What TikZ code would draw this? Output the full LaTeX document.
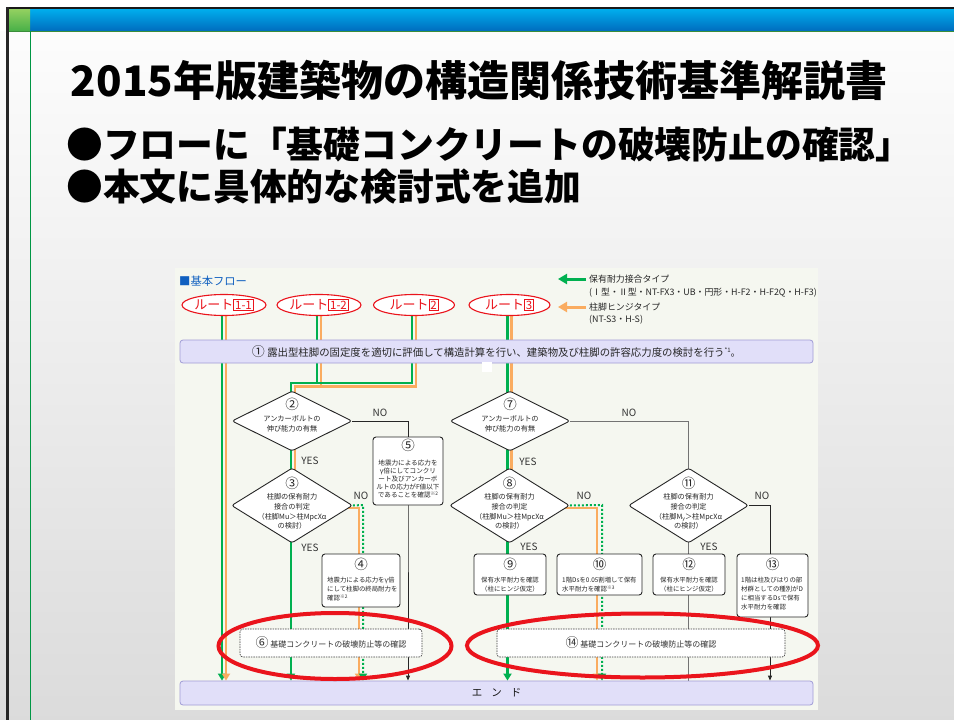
\documentclass[tikz,border=0pt]{standalone}
\usepackage{fontspec}
\newfontfamily\cjk{Noto Sans CJK JP}
\usetikzlibrary{shapes.geometric,arrows.meta,calc}
\pgfdeclarelayer{back}
\pgfdeclarelayer{lines}
\pgfsetlayers{back,lines,main}
\newcommand\fsz[2]{\fontsize{#1}{#2}\selectfont}
\newcommand\rbox[1]{{\setlength\fboxsep{0.9pt}\setlength\fboxrule{0.9pt}\fcolorbox{rd}{white}{\fsz{11.5}{11.5}\textcolor{rd}{#1}}}}
\newcommand\kome[1]{{\fsz{4.8}{4.8}\raisebox{1.8pt}{#1}}}
\definecolor{gr}{RGB}{0,176,80}
\definecolor{orn}{RGB}{250,172,96}
\definecolor{lav}{RGB}{225,223,249}
\definecolor{lavb}{RGB}{160,156,214}
\definecolor{panel}{RGB}{245,247,240}
\definecolor{rd}{RGB}{234,20,28}
\definecolor{blu1}{RGB}{0,172,236}
\definecolor{blu2}{RGB}{0,108,190}
\definecolor{grn1}{RGB}{146,208,96}
\definecolor{grn2}{RGB}{72,176,72}
\definecolor{hdblue}{RGB}{16,96,192}
\begin{document}
\begin{tikzpicture}[x=1pt,y=-1pt,
  every node/.style={font=\cjk, inner sep=0pt},
  route/.style={ellipse, draw=rd, line width=1.1pt, fill=white, minimum width=81pt, minimum height=21pt, text=rd, font=\cjk\fsz{13}{13}},
  lavbox/.style={rectangle, rounded corners=3pt, draw=lavb, line width=0.8pt, fill=lav},
  dia/.style={diamond, draw=black!85, line width=0.9pt, fill=white, rounded corners=2.5pt},
  bx/.style={rectangle, rounded corners=3pt, draw=black!85, line width=0.9pt, fill=white},
  dbx/.style={rectangle, rounded corners=3pt, draw=black!75, line width=0.7pt, dash pattern=on 1.5pt off 1pt, fill=white, text=black!80, font=\cjk\fsz{8}{8}},
  num/.style={font=\cjk\fsz{13.5}{13.5}, text=black!85},
  dt/.style={align=center, font=\cjk\fsz{7.2}{9.8}, text=black!85},
  bt/.style={font=\cjk\fsz{6.6}{8}, text=black!85},
  lbl/.style={font=\cjk\fsz{10}{10}, text=black!80},
  lgt/.style={font=\cjk\fsz{8.9}{8.9}, text=black!85, anchor=west},
  gl/.style={draw=gr, line width=2.4pt},
  ol/.style={draw=orn, line width=2.4pt},
  gdl/.style={draw=gr, line width=2pt, dash pattern=on 2pt off 2pt},
  kl/.style={draw=black!85, line width=0.9pt},
  ql/.style={draw=black!55, line width=0.9pt},
  bigtip/.style={-{Triangle[width=8pt,length=7pt]}},
  smalltip/.style={-{Triangle[width=4pt,length=5pt]}},
  redring/.style={ellipse, draw=rd, line width=4pt}
]
\useasboundingbox (0,0) rectangle (954,720);

% ---------- slide background ----------
\begin{pgfonlayer}{back}
\fill[white] (0,0) rectangle (954,720);
\shade[top color=black!1, bottom color=black!14] (0,31) rectangle (954,720);
\fill[black!90] (5.5,7) rectangle (954,9.5);
\shade[top color=blu1, bottom color=blu2] (8.5,9.5) rectangle (954,31);
\shade[top color=grn1, bottom color=grn2] (8.5,9.5) rectangle (30,31);
\draw[grn2!80!black, line width=1pt] (8.5,31.5) -- (954,31.5);
\fill[black!85] (5.5,7) rectangle (8.5,720);
\draw[gr!85!black, line width=0.9pt] (30,31) -- (30,720);
% panel
\fill[panel] (175,268) rectangle (818,710);
\end{pgfonlayer}

% ---------- titles ----------
\node[font=\cjk\bfseries\fsz{42}{42}] (title) at (479,80) {2015年版建築物の構造関係技術基準解説書};
\node[font=\cjk\bfseries\fsz{36.8}{36.8}, anchor=west] (bul1) at (66,145) {●フローに「基礎コンクリートの破壊防止の確認」};
\node[font=\cjk\bfseries\fsz{36.8}{36.8}, anchor=west] (bul2) at (66,187) {●本文に具体的な検討式を追加};

% ---------- diagram header & legend ----------
\node[font=\cjk\fsz{11.3}{11.3}, text=hdblue, anchor=west] (hd) at (179,281) {■基本フロー};

\node[route] (r11) at (224,305) {ルート\rbox{1-1}};
\node[route] (r12) at (319,305) {ルート\rbox{1-2}};
\node[route] (r2) at (414,305) {ルート\rbox{2}};
\node[route] (r3) at (509.5,305) {ルート\rbox{3}};

\node[lgt] (lg1) at (589,279) {保有耐力接合タイプ};
\node[lgt] (lg2) at (589,293) {(Ⅰ型・Ⅱ型・NT-FX3・UB・円形・H-F2・H-F2Q・H-F3)};
\node[lgt] (lg3) at (589,307) {柱脚ヒンジタイプ};
\node[lgt] (lg4) at (589,320) {(NT-S3・H-S)};
\coordinate (la1) at (558,279);
\coordinate (la2) at (558,307);
\draw[draw=gr, line width=3pt, -{Triangle[width=10pt,length=9pt]}] ([xshift=-3pt]lg1.west) -- (la1);
\draw[draw=orn, line width=3pt, -{Triangle[width=10pt,length=9pt]}] ([xshift=-3pt]lg3.west) -- (la2);

% ---------- main boxes ----------
\node[lavbox, minimum width=633pt, minimum height=23pt, font=\cjk\fsz{10.4}{10.4}, text=black!85] (b1) at (496.5,351.5)
  {{\fsz{13}{13}①}\ 露出型柱脚の固定度を適切に評価して構造計算を行い、建築物及び柱脚の許容応力度の検討を行う{\fsz{6}{6}\raisebox{3.5pt}{*1}}。};
\fill[white] (482,362) rectangle (492,372);

\node[lavbox, minimum width=633pt, minimum height=24pt, font=\cjk\fsz{10.5}{10.5}, text=black!90] (endb) at (496.5,693)
  {エ\hspace{9pt}ン\hspace{9pt}ド};

% diamonds
\node[dia, minimum width=120pt, minimum height=60pt] (d2) at (292,421) {};
\node[dia, minimum width=121pt, minimum height=75pt] (d3) at (292,505.5) {};
\node[dia, minimum width=120pt, minimum height=60pt] (d7) at (510,421) {};
\node[dia, minimum width=120pt, minimum height=75pt] (d8) at (509.5,505.5) {};
\node[dia, minimum width=120pt, minimum height=75pt] (d11) at (688.5,505.5) {};

\node[num] (n2) at (292,404) {②};
\node[dt] (t2) at (292,424) {アンカーボルトの\\伸び能力の有無};
\node[num] (n7) at (510,404) {⑦};
\node[dt] (t7) at (510,424) {アンカーボルトの\\伸び能力の有無};
\node[num] (n3) at (292,483) {③};
\node[dt] (t3) at (292,511.5) {柱脚の保有耐力\\接合の判定\\（柱脚Mu＞柱MpcXα\\の検討）};
\node[num] (n8) at (509.5,483) {⑧};
\node[dt] (t8) at (509.5,511.5) {柱脚の保有耐力\\接合の判定\\（柱脚Mu＞柱MpcXα\\の検討）};
\node[num] (n11) at (688.5,483) {⑪};
\node[dt] (t11) at (688.5,511.5) {柱脚の保有耐力\\接合の判定\\（柱脚M{\fsz{5}{5}\raisebox{-1.2pt}{y}}＞柱MpcXα\\の検討）};

% rectangular boxes
\node[bx, minimum width=70pt, minimum height=68pt] (b5) at (408,471) {};
\node[num] (n5) at (408,445) {⑤};
\node[bt, align=center] (t5) at (408,479) {地震力による応力を\\γ倍にしてコンクリ\\ート及びアンカーボ\\ルトの応力がF値以下\\であることを確認\kome{※2}};

\node[bx, minimum width=78pt, minimum height=53pt] (b4) at (361,580.5) {};
\node[num] (n4) at (361,564) {④};
\node[bt, align=left, anchor=west, font=\cjk\fsz{6.4}{9}] (t4) at (327,589) {地震力による応力をγ倍\\にして柱脚の終局耐力を\\確認\kome{※2}};

\node[bx, minimum width=72pt, minimum height=41pt] (b9) at (510,574.5) {};
\node[num] (n9) at (510,564) {⑨};
\node[bt, align=center, font=\cjk\fsz{6.4}{9}] (t9) at (510,584.5) {保有水平耐力を確認\\（柱にヒンジ仮定）};

\node[bx, minimum width=85pt, minimum height=41pt] (b10) at (599.5,574.5) {};
\node[num] (n10) at (599.5,564) {⑩};
\node[bt, align=left, anchor=west, font=\cjk\fsz{6.4}{9}] (t10) at (562,584.5) {1階Dsを0.05割増して保有\\水平耐力を確認\kome{※3}};

\node[bx, minimum width=72pt, minimum height=41pt] (b12) at (689,574.5) {};
\node[num] (n12) at (689,564) {⑫};
\node[bt, align=center, font=\cjk\fsz{6.4}{9}] (t12) at (689,584.5) {保有水平耐力を確認\\（柱にヒンジ仮定）};

\node[bx, minimum width=71pt, minimum height=63pt] (b13) at (772.5,585.5) {};
\node[num] (n13) at (772.5,564) {⑬};
\node[bt, align=left, anchor=west, font=\cjk\fsz{6.4}{9}] (t13) at (741,593.5) {1階は柱及びはりの部\\材群としての種別がD\\に相当するDsで保有\\水平耐力を確認};

\node[dbx, minimum width=182pt, minimum height=28pt] (b6) at (331,643) {{\fsz{13}{13}⑥}\ 基礎コンクリートの破壊防止等の確認};
\node[dbx, minimum width=288pt, minimum height=28pt] (b14) at (641,643) {{\fsz{13}{13}⑭}\ 基礎コンクリートの破壊防止等の確認};

% labels
\node[lbl] (no2) at (380,413) {NO};
\node[lbl] (no7) at (629,413) {NO};
\node[lbl] (no3) at (361,496) {NO};
\node[lbl] (no8) at (584,496) {NO};
\node[lbl] (no11) at (762,496) {NO};
\node[lbl] (ye2) at (310,461) {YES};
\node[lbl] (ye7) at (528,462) {YES};
\node[lbl] (ye3) at (310,548) {YES};
\node[lbl] (ye8) at (529,547) {YES};
\node[lbl] (ye11) at (709,547) {YES};

% red rings
\node[redring, minimum width=233pt, minimum height=66pt] (e6) at (335,646) {};
\node[redring, minimum width=351pt, minimum height=64pt] (e14) at (642.5,645.5) {};

% ---------- connectors ----------
\coordinate (jg) at (291,383);
\coordinate (jo) at (295,386.5);
\coordinate (o3) at (359,508);
\coordinate (g3) at (363,505);
\coordinate (o8) at (597,508);
\coordinate (g8) at (602,505);
\coordinate (k11) at (770,505.5);
\begin{pgfonlayer}{lines}
% route 1-1
\draw[gl, bigtip] ([xshift=-2pt]r11.south) -- ([xshift=-2pt]r11.south |- endb.north);
\draw[ol, bigtip] ([xshift=2pt]r11.south) -- ([xshift=2pt]r11.south |- endb.north);
% routes 1-2 and 2
\draw[gl] ([xshift=-2pt]r12.south) -- ([xshift=-2pt]r12.south |- jg);
\draw[ol] ([xshift=2pt]r12.south) -- ([xshift=2pt]r12.south |- jo);
\draw[ol, bigtip] ([xshift=2pt]r2.south) |- (jo) |- (o3) -- (o3 |- endb.north);
\draw[gl, bigtip] ([xshift=-2pt]r2.south) |- (jg) -- (jg |- endb.north);
\draw[gdl, bigtip] (d3.east) -- (g3) -- (g3 |- endb.north);
\draw[kl, smalltip] (d2.east) -| (b5.center) -- (b5.center |- endb.north);
% route 3
\draw[ol, bigtip] ([xshift=2pt]r3.south) |- (o8) -- (o8 |- endb.north);
\draw[gl, bigtip] ([xshift=-2pt]r3.south) -- ([xshift=-2pt]r3.south |- endb.north);
\draw[gdl, bigtip] (d8.east) -- (g8) -- (g8 |- endb.north);
\draw[ql] (d7.east) -| (d11.center) -- (d11.center |- endb.north);
\draw[kl, smalltip] (d11.east) -- (k11) -- (k11 |- endb.north);
\end{pgfonlayer}
\end{tikzpicture}
\end{document}
